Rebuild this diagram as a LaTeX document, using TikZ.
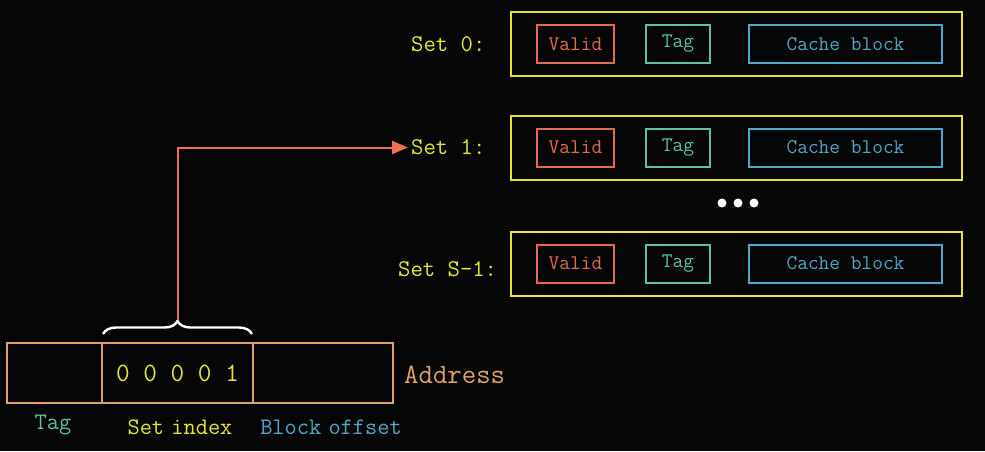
\documentclass[tikz,border=0pt]{standalone}
\usetikzlibrary{arrows.meta,decorations.pathreplacing}
\definecolor{bgc}{HTML}{060606}
\definecolor{ylw}{HTML}{E6E632}
\definecolor{vred}{HTML}{E46A50}
\definecolor{tealc}{HTML}{5FC0A2}
\definecolor{cblue}{HTML}{4EA8C6}
\definecolor{addr}{HTML}{DFA266}
\definecolor{arrc}{HTML}{F07056}
\tikzset{
  setbox/.style={draw=ylw, line width=2pt, minimum width=451pt, minimum height=64pt, inner sep=0pt},
  inbox/.style={line width=2pt, minimum height=38pt, inner sep=0pt, font=\ttfamily\fontsize{20.8}{24}\selectfont},
  validbox/.style={inbox, draw=vred, text=vred, minimum width=77pt},
  tagbox/.style={inbox, draw=tealc, text=tealc, minimum width=64pt},
  cachebox/.style={inbox, draw=cblue, text=cblue, minimum width=193pt},
  setlabel/.style={text=ylw, anchor=west, inner sep=0pt, font=\ttfamily\fontsize{24}{28}\selectfont},
  cell/.style={draw=addr, line width=2pt, minimum height=60pt, inner sep=0pt},
  sublabel/.style={inner sep=0pt, font=\ttfamily\fontsize{23.7}{28}\selectfont},
  dot/.style={circle, fill=white, minimum size=9pt, inner sep=0pt},
}
\begin{document}
\begin{tikzpicture}[x=1pt,y=-1pt]
\fill[bgc] (0,0) rectangle (985,451);
\useasboundingbox (0,0) rectangle (985,451);
% sets
\foreach \n/\y/\lx/\ly/\lab in {0/44/411/44.5/Set 0:, 1/147.5/411/147.5/Set 1:, 2/263.5/398/269.5/Set S-1:}{
  \node[setbox] (set\n) at (736.5,\y) {};
  \node[validbox] (valid\n) at (575.5,\y) {Valid};
  \node[tagbox] (tag\n) at (678,\y) {Tag};
  \node[cachebox] (cache\n) at (845.5,\y) {Cache block};
  \node[setlabel] (lab\n) at (\lx,\ly) {\lab};
}
\node[dot] (d1) at (722,203) {};
\node[dot] (d2) at (738,203) {};
\node[dot] (d3) at (754,203) {};
% address
\node[cell, minimum width=95pt] (tagcell) at (54.5,373) {};
\node[cell, minimum width=151pt, text=ylw, font=\ttfamily\fontsize{26.5}{30}\selectfont] (idxcell) at (177.5,373) {0 0 0 0 1};
\node[cell, minimum width=140pt] (offcell) at (323,373) {};
\node[anchor=west, text=addr, inner sep=0pt, font=\ttfamily\fontsize{28}{32}\selectfont] (addrlab) at (404,375) {Address};
\node[sublabel, text=tealc] (taglab) at (53,425) {Tag};
\node[sublabel, text=ylw] (idxlab) at (180,427) {Set\hspace{-5pt} index};
\node[sublabel, text=cblue] (offlab) at (331,427) {Block\hspace{-5pt} offset};
% brace and arrow
\draw[white, line width=2.4pt, decorate, decoration={brace, amplitude=13pt}]
  ([xshift=2pt,yshift=8pt]idxcell.north west) -- ([xshift=-2pt,yshift=8pt]idxcell.north east);
\coordinate (bt) at (178,320);
\draw[arrc, line width=2pt, -{Triangle[length=16pt,width=13pt]}] (bt) |- ([xshift=-3pt]lab1.west);
\end{tikzpicture}
\end{document}
